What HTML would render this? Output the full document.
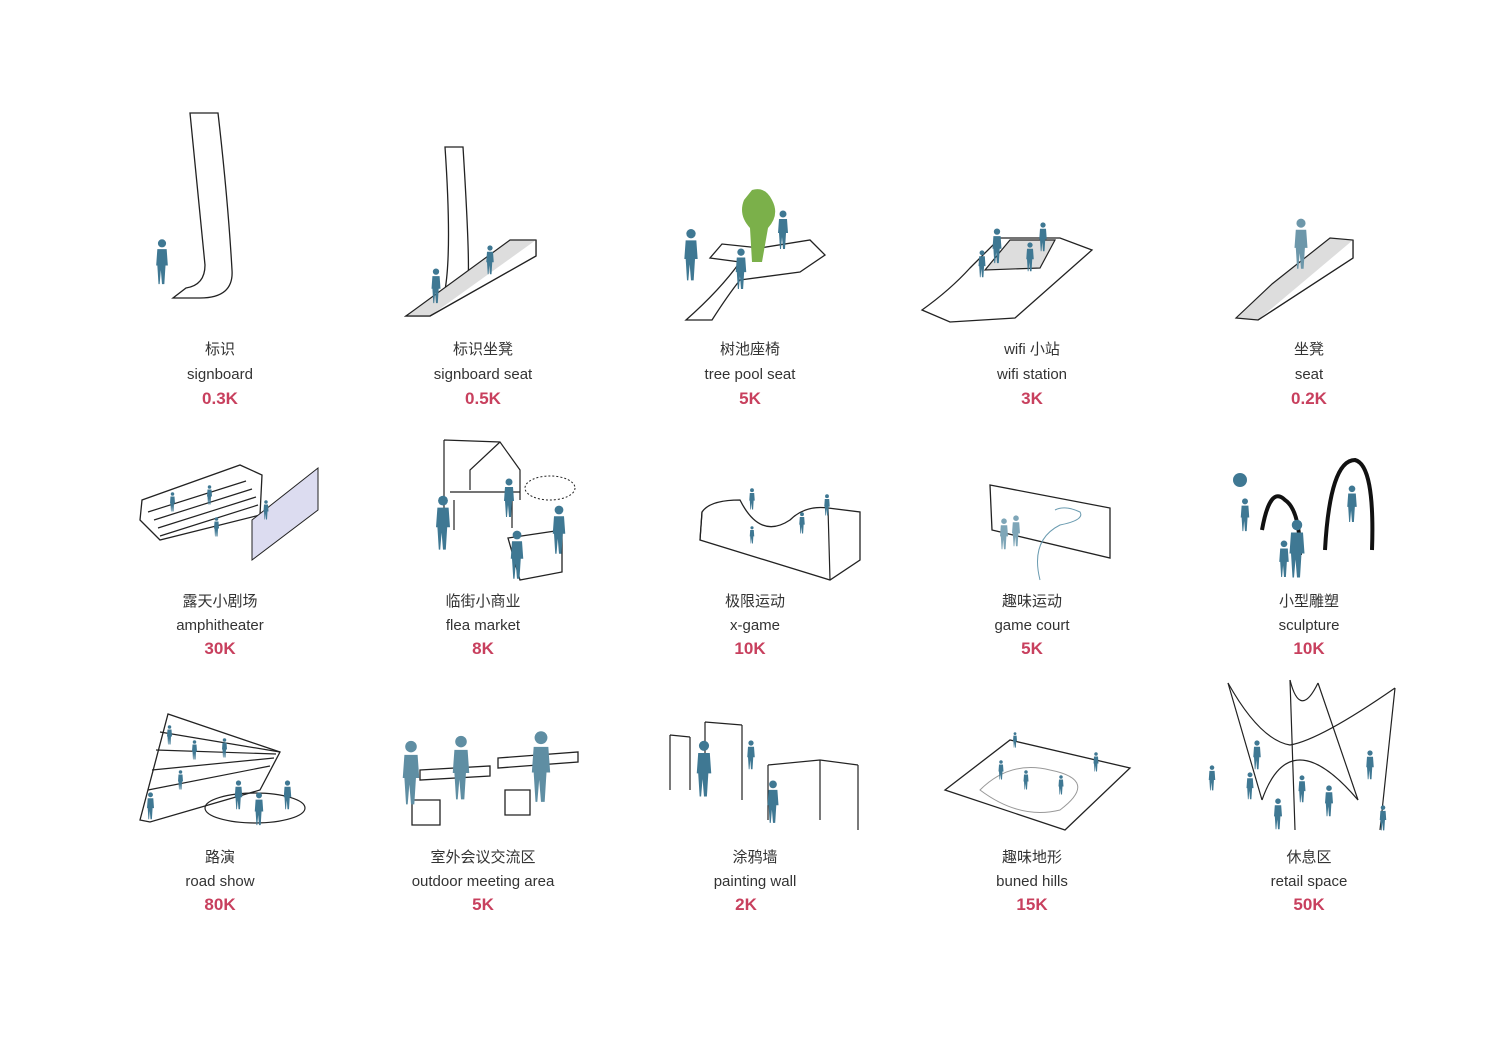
<!DOCTYPE html>
<html><head><meta charset="utf-8"><style>
html,body{margin:0;padding:0;background:#fff;width:1500px;height:1060px;overflow:hidden}
svg{display:block}
.c{font-family:"Liberation Sans","Noto Sans CJK SC",sans-serif;font-size:15px;fill:#333;text-anchor:middle}
.e{font-family:"Liberation Sans",sans-serif;font-size:15px;fill:#333;text-anchor:middle}
.p{font-family:"Liberation Sans",sans-serif;font-size:17px;font-weight:bold;fill:#c8405e;text-anchor:middle}
.o{fill:#fff;stroke:#222;stroke-width:1.3}
.g{fill:#ddd;stroke:#222;stroke-width:1.2}
.l{fill:none;stroke:#222;stroke-width:1.2}
.b{fill:#3f7893}
</style></head><body>
<svg width="1500" height="1060" viewBox="0 0 1500 1060">
<defs>
<symbol id="pp" viewBox="0 0 12 40"><circle cx="6" cy="4" r="3.5"/><path d="M2 9h8l1 14h-2l-1 16h-2l-1-12-1 12H3L2 23H1z"/></symbol>
</defs>
<!-- Row 1 -->
<path class="o" d="M190 113 L218 113 Q228 200 232 270 Q234 298 200 298 L173 298 L186 288 Q205 285 205 265 Z"/>
<use href="#pp" class="b" x="155" y="238" width="14" height="48"/>

<path class="o" d="M445 147 L463 147 Q470 260 468 280 L430 316 L406 316 L445 290 Q452 250 445 147Z"/>
<path class="g" d="M406 316 L430 316 L536 256 L536 240 L510 240 Z"/>
<path class="o" d="M430 316 L536 256 L536 240"/>
<use href="#pp" class="b" x="430" y="268" width="12" height="36"/>
<use href="#pp" class="b" x="484" y="245" width="12" height="30"/>

<path class="o" d="M686 320 L712 320 Q728 295 740 280 L800 272 L825 255 L810 240 L760 248 L722 244 L710 258 L740 262 Q720 290 686 320Z"/>
<path fill="#7bb04a" d="M752 190 Q765 186 772 200 Q780 215 768 228 L762 262 L752 262 L750 228 Q738 215 744 200Z"/>
<use href="#pp" class="b" x="683" y="228" width="16" height="54"/>
<use href="#pp" class="b" x="733" y="248" width="16" height="42"/>
<use href="#pp" class="b" x="774" y="210" width="18" height="40"/>

<path class="o" d="M922 310 L950 322 L1015 318 L1092 250 L1060 238 L1000 238 L970 268 Q950 290 922 310Z"/>
<path class="g" d="M1010 240 L1055 240 L1040 268 L985 270Z"/>
<use href="#pp" class="b" x="990" y="228" width="14" height="36"/>
<use href="#pp" class="b" x="1024" y="242" width="12" height="30"/>
<use href="#pp" class="b" x="1036" y="222" width="14" height="30"/>
<use href="#pp" class="b" x="976" y="250" width="12" height="28"/>

<path class="g" d="M1236 318 L1258 320 L1353 258 L1353 240 L1330 238 L1272 284 Z"/>
<path class="o" d="M1258 320 L1353 258 L1353 240"/>
<use href="#pp" fill="#6d97aa" x="1288" y="218" width="26" height="52"/>

<!-- Row 2 -->
<path class="o" d="M140 520 L160 540 L260 515 L262 475 L240 465 L142 500Z"/>
<path class="l" d="M148 512 L246 481 M154 520 L252 489 M158 528 L256 497 M160 536 L258 505"/>
<path fill="#dcdcf0" stroke="#222" d="M252 520 L318 468 L318 510 L252 560Z"/>
<use href="#pp" class="b" x="168" y="492" width="9" height="20"/>
<use href="#pp" class="b" x="205" y="485" width="9" height="20"/>
<use href="#pp" class="b" x="212" y="517" width="9" height="20"/>
<use href="#pp" class="b" x="260" y="500" width="12" height="20"/>

<path class="l" d="M444 440 L500 442 L520 470 L520 500 M444 440 L444 520 M500 442 L470 470 L470 490 M450 492 L520 492 M454 500 L454 530 M512 500 L512 528"/>
<path class="o" d="M508 538 L562 530 L562 572 L520 580 Z"/>
<ellipse cx="550" cy="488" rx="25" ry="12" fill="#fff" stroke="#222" stroke-dasharray="2 2"/>
<use href="#pp" class="b" x="434" y="495" width="18" height="56"/>
<use href="#pp" class="b" x="503" y="478" width="12" height="40"/>
<use href="#pp" class="b" x="508" y="530" width="18" height="50"/>
<use href="#pp" class="b" x="550" y="505" width="18" height="50"/>

<path class="o" d="M702 512 Q710 500 740 500 Q760 540 790 520 Q805 505 828 508 L860 512 L860 560 L830 580 L700 540Z"/>
<path class="l" d="M702 512 L700 540 M828 508 L830 580"/>
<use href="#pp" class="b" x="745" y="488" width="14" height="22"/>
<use href="#pp" class="b" x="745" y="526" width="14" height="18"/>
<use href="#pp" class="b" x="795" y="512" width="14" height="22"/>
<use href="#pp" class="b" x="820" y="494" width="14" height="22"/>

<path class="o" d="M990 485 L1110 508 L1110 558 L992 530 Z"/>
<path d="M1055 510 Q1065 505 1080 512 Q1085 520 1060 525 Q1030 540 1040 580" fill="none" stroke="#6a9bb0"/>
<use href="#pp" fill="#7ea6b8" x="998" y="518" width="12" height="32"/>
<use href="#pp" fill="#7ea6b8" x="1010" y="515" width="12" height="32"/>

<circle cx="1240" cy="480" r="7" class="b"/>
<path d="M1262 530 Q1270 485 1285 500 Q1300 510 1300 555" fill="none" stroke="#111" stroke-width="4"/>
<path d="M1325 550 Q1330 460 1355 460 Q1375 465 1372 550" fill="none" stroke="#111" stroke-width="4"/>
<use href="#pp" class="b" x="1238" y="498" width="14" height="34"/>
<use href="#pp" class="b" x="1278" y="540" width="12" height="38"/>
<use href="#pp" class="b" x="1288" y="518" width="18" height="62"/>
<use href="#pp" class="b" x="1345" y="485" width="14" height="38"/>

<!-- Row 3 -->
<path class="o" d="M140 820 L168 714 L280 752 L260 790 L150 822Z"/>
<path class="l" d="M148 790 L270 766 M152 770 L274 758 M156 750 L276 754 M160 732 L280 752"/>
<ellipse cx="255" cy="808" rx="50" ry="15" class="l"/>
<g class="b">
<use href="#pp" x="165" y="725" width="9" height="20"/><use href="#pp" x="190" y="740" width="9" height="20"/><use href="#pp" x="220" y="738" width="9" height="20"/><use href="#pp" x="176" y="770" width="9" height="20"/>
<use href="#pp" x="145" y="792" width="11" height="28"/><use href="#pp" x="232" y="780" width="13" height="30"/><use href="#pp" x="252" y="792" width="14" height="34"/><use href="#pp" x="282" y="780" width="11" height="30"/></g>

<path class="o" d="M420 770 L490 766 L490 776 L420 780Z M498 758 L578 752 L578 762 L498 768Z"/>
<path class="o" d="M412 800 L440 800 L440 825 L412 825Z M505 790 L530 790 L530 815 L505 815Z"/>
<use href="#pp" fill="#5f8ea3" x="400" y="740" width="22" height="66"/>
<use href="#pp" fill="#5f8ea3" x="450" y="735" width="22" height="66"/>
<use href="#pp" fill="#5f8ea3" x="530" y="728" width="22" height="78"/>

<path class="l" d="M670 735 L670 790 M690 737 L690 790 M705 722 L705 780 M742 725 L742 800 M768 765 L768 820 M820 760 L820 820 M858 765 L858 830 M670 735 L690 737 M705 722 L742 725 M768 765 L820 760 M820 760 L858 765"/>
<use href="#pp" class="b" x="695" y="740" width="18" height="58"/>
<use href="#pp" class="b" x="745" y="740" width="12" height="30"/>
<use href="#pp" class="b" x="762" y="780" width="22" height="44"/>

<path class="o" d="M945 790 L1010 740 L1130 768 L1065 830 Z"/>
<path d="M980 790 Q1010 760 1050 770 Q1100 780 1060 810 Q1020 820 980 790Z" fill="none" stroke="#999"/>
<g class="b"><use href="#pp" x="995" y="760" width="12" height="20"/><use href="#pp" x="1020" y="770" width="12" height="20"/><use href="#pp" x="1055" y="775" width="12" height="20"/><use href="#pp" x="1090" y="752" width="12" height="20"/><use href="#pp" x="1010" y="732" width="10" height="16"/></g>

<path class="l" stroke-width="2.5" d="M1228 683 L1262 800 M1290 680 L1295 830 M1395 688 L1380 830 M1318 683 L1358 800"/>
<path class="l" d="M1228 683 Q1260 740 1290 745 Q1320 740 1395 688 M1262 800 Q1290 720 1358 800 M1290 680 Q1300 720 1318 683"/>
<g class="b"><use href="#pp" x="1207" y="765" width="10" height="26"/><use href="#pp" x="1245" y="772" width="10" height="28"/><use href="#pp" x="1272" y="798" width="12" height="32"/><use href="#pp" x="1295" y="775" width="14" height="28"/><use href="#pp" x="1322" y="785" width="14" height="32"/><use href="#pp" x="1362" y="750" width="16" height="30"/><use href="#pp" x="1378" y="805" width="10" height="26"/><use href="#pp" x="1250" y="740" width="14" height="30"/></g>

<!-- Labels -->
<g>
<text class="c" x="220" y="354">标识</text><text class="e" x="220" y="379">signboard</text><text class="p" x="220" y="404">0.3K</text>
<text class="c" x="483" y="354">标识坐凳</text><text class="e" x="483" y="379">signboard seat</text><text class="p" x="483" y="404">0.5K</text>
<text class="c" x="750" y="354">树池座椅</text><text class="e" x="750" y="379">tree pool seat</text><text class="p" x="750" y="404">5K</text>
<text class="c" x="1032" y="354">wifi 小站</text><text class="e" x="1032" y="379">wifi station</text><text class="p" x="1032" y="404">3K</text>
<text class="c" x="1309" y="354">坐凳</text><text class="e" x="1309" y="379">seat</text><text class="p" x="1309" y="404">0.2K</text>

<text class="c" x="220" y="606">露天小剧场</text><text class="e" x="220" y="630">amphitheater</text><text class="p" x="220" y="654">30K</text>
<text class="c" x="483" y="606">临街小商业</text><text class="e" x="483" y="630">flea market</text><text class="p" x="483" y="654">8K</text>
<text class="c" x="755" y="606">极限运动</text><text class="e" x="755" y="630">x-game</text><text class="p" x="750" y="654">10K</text>
<text class="c" x="1032" y="606">趣味运动</text><text class="e" x="1032" y="630">game court</text><text class="p" x="1032" y="654">5K</text>
<text class="c" x="1309" y="606">小型雕塑</text><text class="e" x="1309" y="630">sculpture</text><text class="p" x="1309" y="654">10K</text>

<text class="c" x="220" y="862">路演</text><text class="e" x="220" y="886">road show</text><text class="p" x="220" y="910">80K</text>
<text class="c" x="483" y="862">室外会议交流区</text><text class="e" x="483" y="886">outdoor meeting area</text><text class="p" x="483" y="910">5K</text>
<text class="c" x="755" y="862">涂鸦墙</text><text class="e" x="755" y="886">painting wall</text><text class="p" x="746" y="910">2K</text>
<text class="c" x="1032" y="862">趣味地形</text><text class="e" x="1032" y="886">buned hills</text><text class="p" x="1032" y="910">15K</text>
<text class="c" x="1309" y="862">休息区</text><text class="e" x="1309" y="886">retail space</text><text class="p" x="1309" y="910">50K</text>
</g>
</svg>
</body></html>
